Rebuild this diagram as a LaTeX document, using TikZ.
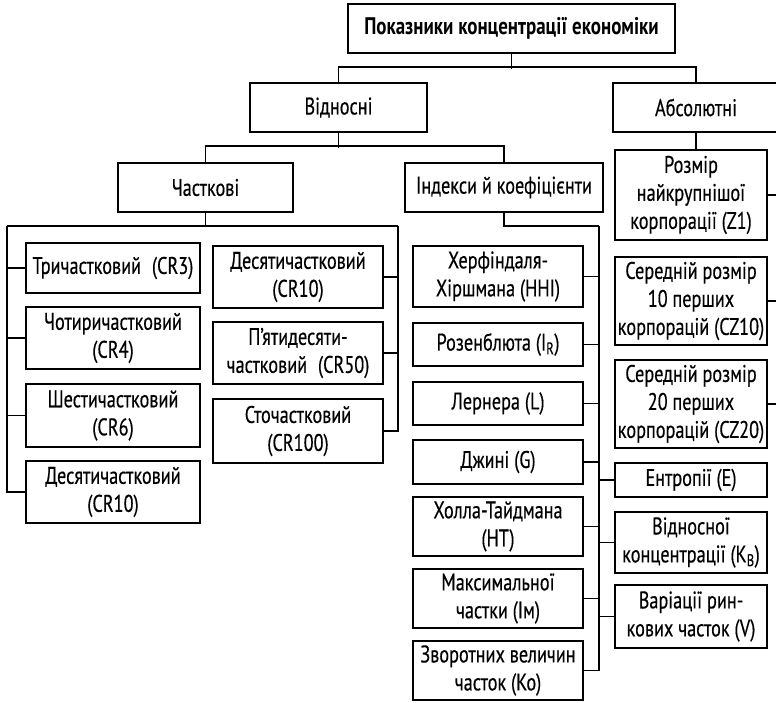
\documentclass[tikz,border=0pt]{standalone}
\usepackage{fontspec}
\setmainfont[FakeStretch=0.76, FakeBold=0.4]{PT Sans}
\newfontfamily\titlefont[FakeStretch=0.79]{PT Sans}
\begin{document}
\begin{tikzpicture}[x=1pt,y=-1pt,
  bx/.style={draw, line width=2pt, align=center, inner sep=1pt,
    font=\fontsize{24}{28}\selectfont},
  ln/.style={line width=1.3pt}]
\useasboundingbox (0,0) rectangle (776,703);

% top level
\node[bx, minimum width=327, minimum height=49, font=\titlefont\bfseries\fontsize{24}{28}\selectfont] (top) at (511.5,28.5) {Показники концентрації економіки};
\node[bx, minimum width=177, minimum height=49] (vid) at (338.5,107.5) {Відносні};
\node[bx, minimum width=166, minimum height=49] (abs) at (696,107.5) {Абсолютні};

% second level
\node[bx, minimum width=175, minimum height=49] (chast) at (205.5,187.5) {Часткові};
\node[bx, minimum width=198, minimum height=49] (ind) at (504,187.5) {Індекси й коефіцієнти};

% partial indicators, left column
\node[bx, minimum width=174, minimum height=50] (c3) at (113,268) {Тричастковий\hspace{0.25em} (CR3)};
\node[bx, minimum width=174, minimum height=62] (c4) at (113,338) {Чотиричастковий\\(CR4)};
\node[bx, minimum width=174, minimum height=63] (c6) at (113,415.5) {Шестичастковий\\(CR6)};
\node[bx, minimum width=174, minimum height=62] (c10a) at (113,492) {Десятичастковий\\(CR10)};

% partial indicators, right column
\node[bx, minimum width=170, minimum height=62] (c10b) at (298,277) {Десятичастковий\\(CR10)};
\node[bx, minimum width=170, minimum height=62] (c50) at (298,353) {П’ятидесяти-\\частковий\hspace{0.25em} (CR50)};
\node[bx, minimum width=170, minimum height=64] (c100) at (298,431) {Сточастковий\\(CR100)};

% indices and coefficients
\node[bx, minimum width=170, minimum height=61] (hhi) at (498,276.5) {Херфіндаля-\\Хіршмана (HHI)};
\node[bx, minimum width=170, minimum height=43] (ir) at (498,344.5) {Розенблюта (I\textsubscript{R})};
\node[bx, minimum width=170, minimum height=43] (lr) at (498,403.5) {Лернера (L)};
\node[bx, minimum width=170, minimum height=44] (gi) at (498,462) {Джині (G)};
\node[bx, minimum width=170, minimum height=59] (ht) at (498,526.5) {Холла-Тайдмана\\(HT)};
\node[bx, minimum width=170, minimum height=59] (im) at (498,598.5) {Максимальної\\частки (Iм)};
\node[bx, minimum width=170, minimum height=59] (ko) at (498,670.5) {Зворотних величин\\часток (Ko)};

% absolute indicators and the rest of the indices
\node[bx, minimum width=152, minimum height=90] (z1) at (691,195) {Розмір\\найкрупнішої\\корпорації (Z1)};
\node[bx, minimum width=152, minimum height=88] (cz10) at (691,301) {Середній розмір\\10 перших\\корпорацій (CZ10)};
\node[bx, minimum width=152, minimum height=88] (cz20) at (691,404) {Середній розмір\\20 перших\\корпорацій (CZ20)};
\node[bx, minimum width=152, minimum height=34] (en) at (691,480) {Ентропії (E)};
\node[bx, minimum width=152, minimum height=61] (kb) at (691,542.5) {Відносної\\концентрації (K\textsubscript{B})};
\node[bx, minimum width=152, minimum height=63] (va) at (691,616.5) {Варіації рин-\\кових часток (V)};

% bracket junctions
\coordinate (pl) at (7,226);
\coordinate (pr) at (398,226);
\coordinate (ib) at (599,226);
\coordinate (rb) at (778,0);

% top tree
\draw[ln] (top.south) -- ++(0,15);
\draw[ln] (vid.north) -- ++(0,-15) -| (abs.north);
\draw[ln] (vid.south) -- ++(0,15);
\draw[ln] (chast.north) -- ++(0,-16) -| (ind.north);
\draw[ln] (abs.south) -- (abs.south |- z1.north);

% partial indicators bracket
\draw[ln] (chast.south) -- (chast.south |- pl);
\draw[ln] (pl) -- (pr);
\draw[ln] (pl) |- (c10a.west);
\draw[ln] (pr) |- (c100.east);
\foreach \n in {c3,c4,c6} \draw[ln] (\n.west) -- (\n.west -| pl);
\foreach \n in {c10b,c50} \draw[ln] (\n.east) -- (\n.east -| pr);

% indices bracket
\draw[ln] (ind.south) |- (ib);
\draw[ln] (ib) |- (ko.east);
\foreach \n in {hhi,ir,lr,gi,ht,im} \draw[ln] (\n.east) -- (\n.east -| ib);
\foreach \n in {en,kb,va} \draw[ln] (\n.west) -- (\n.west -| ib);

% absolute bracket stubs
\foreach \n in {z1,cz10,cz20} \draw[ln] (\n.east) -- (\n.east -| rb);
\end{tikzpicture}
\end{document}
